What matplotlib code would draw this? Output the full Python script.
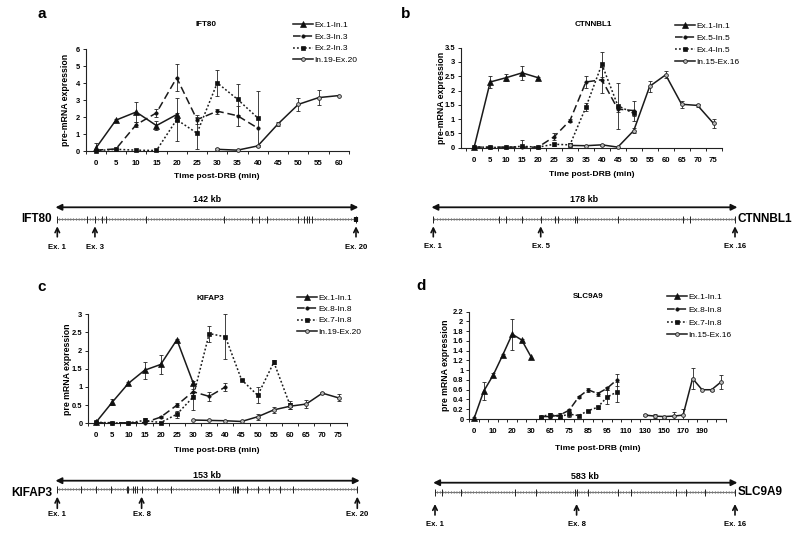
import numpy as np
import matplotlib
matplotlib.use('Agg')
import matplotlib.pyplot as plt
from matplotlib.patches import Rectangle

plt.rcParams['font.family'] = ['Liberation Sans', 'DejaVu Sans']
plt.rcParams['font.weight'] = 'bold'
plt.rcParams['hatch.linewidth'] = 0.5

W, H = 800, 536
def fx(px): return px / W
def fy(py): return 1 - py / H

# ---------------- data: panel a (IFT80) ----------------
ift80_times = [0, 5, 10, 15, 20, 25, 30, 35, 40, 45, 50, 55, 60]
ift80_ex1_in1 = [0.15, 1.82, 2.3, 1.5, 2.15, None, None, None, None, None, None, None, None]
ift80_ex1_in1_err = [0.35, 0.05, 0.6, 0.25, 0.1, None, None, None, None, None, None, None, None]
ift80_ex3_in3 = [0.05, 0.12, 1.55, 2.25, 4.32, 1.85, 2.35, 2.08, 1.35, None, None, None, None]
ift80_ex3_in3_err = [None, None, 0.15, 0.25, 0.8, 0.25, 0.15, 0.6, None, None, None, None, None]
ift80_ex2_in3 = [0.02, 0.1, 0.05, 0.03, 1.85, 1.05, 4.02, 3.05, 1.95, None, None, None, None]
ift80_ex2_in3_err = [None, None, None, None, 1.25, 0.95, 0.75, 0.9, 1.6, None, None, None, None]
ift80_in19_ex20 = [None, None, None, None, None, None, 0.1, 0.05, 0.3, 1.6, 2.75, 3.15, 3.27]
ift80_in19_ex20_err = [None, None, None, None, None, None, 0.05, None, 0.05, 0.12, 0.4, 0.45, None]

# ---------------- data: panel b (CTNNBL1) ----------------
ctnnbl1_times = [0, 5, 10, 15, 20, 25, 30, 35, 40, 45, 50, 55, 60, 65, 70, 75]
ctnnbl1_ex1_in1 = [0.03, 2.3, 2.45, 2.62, 2.45] + [None] * 11
ctnnbl1_ex1_in1_err = [None, 0.22, 0.12, 0.25, 0.03] + [None] * 11
ctnnbl1_ex5_in5 = [0.02, 0.02, 0.02, 0.02, 0.02, 0.38, 0.95, 2.3, 2.38, 1.35, 1.3] + [None] * 5
ctnnbl1_ex5_in5_err = [None, None, None, None, None, 0.12, 0.05, 0.2, 0.46, 0.1, 0.35] + [None] * 5
ctnnbl1_ex4_in5 = [0.03, 0.01, 0.01, 0.05, 0.02, 0.12, 0.1, 1.42, 2.92, 1.47, 1.2] + [None] * 5
ctnnbl1_ex4_in5_err = [None, None, None, 0.22, None, 0.05, 0.05, 0.15, 0.43, 0.8, 0.1] + [None] * 5
ctnnbl1_in15_ex16 = [None] * 6 + [0.08, 0.07, 0.1, 0.02, 0.6, 2.15, 2.55, 1.52, 1.48, 0.85]
ctnnbl1_in15_ex16_err = [None] * 6 + [None, None, 0.03, None, 0.1, 0.2, 0.12, 0.12, 0.05, 0.15]

# ---------------- data: panel c (KIFAP3) ----------------
kifap3_times = [0, 5, 10, 15, 20, 25, 30, 35, 40, 45, 50, 55, 60, 65, 70, 75]
kifap3_ex1_in1 = [0.03, 0.58, 1.1, 1.46, 1.62, 2.3, 1.12] + [None] * 9
kifap3_ex1_in1_err = [0.02, 0.08, 0.03, 0.24, 0.27, 0.03, 0.05] + [None] * 9
kifap3_ex8_in8 = [0.01, 0.02, 0.01, 0.02, 0.17, 0.5, 0.87, 0.74, 1.0] + [None] * 7
kifap3_ex8_in8_err = [None, None, None, None, 0.02, 0.05, 0.08, 0.13, 0.1] + [None] * 7
kifap3_ex7_in8 = [0.03, 0.01, 0.01, 0.08, 0.02, 0.25, 0.72, 2.47, 2.38, 1.2, 0.77, 1.68, 0.5] + [None] * 3
kifap3_ex7_in8_err = [0.02, None, None, 0.06, 0.02, 0.1, 0.35, 0.22, 0.62, 0.02, 0.22, 0.05, 0.1] + [None] * 3
kifap3_in19_ex20 = [None] * 6 + [0.09, 0.08, 0.07, 0.05, 0.18, 0.37, 0.47, 0.53, 0.83, 0.7]
kifap3_in19_ex20_err = [None] * 6 + [None, None, None, None, 0.08, 0.08, 0.08, 0.1, 0.03, 0.1]

# ---------------- data: panel d (SLC9A9) ----------------
slc9a9_times = [0, 5, 10, 15, 20, 25, 30, 60, 65, 70, 75, 80, 85, 90, 95, 100,
                110, 120, 130, 140, 150, 160, 170, 180, 190, 200, 210]
slc9a9_tick_labels = ['0', '10', '20', '30', '65', '75', '85', '95', '110', '130', '150', '170', '190']
slc9a9_ex1_in1 = [0.02, 0.57, 0.9, 1.31, 1.74, 1.62, 1.27] + [None] * 20
slc9a9_ex1_in1_err = [0.02, 0.19, 0.04, 0.03, 0.32, 0.02, None] + [None] * 20
slc9a9_ex8_in8 = [None] * 7 + [0.05, 0.05, 0.08, 0.18, 0.45, 0.6, 0.52, 0.63, 0.8] + [None] * 11
slc9a9_ex8_in8_err = [None] * 7 + [0.02, 0.02, 0.05, 0.02, 0.02, 0.04, 0.04, 0.03, 0.12] + [None] * 11
slc9a9_ex7_in8 = [None] * 7 + [0.05, 0.09, 0.05, 0.1, 0.07, 0.17, 0.24, 0.45, 0.55] + [None] * 11
slc9a9_ex7_in8_err = [None] * 7 + [0.02, 0.03, 0.07, 0.05, None, 0.02, 0.03, 0.15, 0.21] + [None] * 11
slc9a9_in15_ex16 = [None] * 18 + [0.08, 0.06, 0.05, 0.06, 0.08, 0.83, 0.6, 0.6, 0.76]
slc9a9_in15_ex16_err = [None] * 18 + [0.02, 0.04, 0.02, 0.09, 0.12, 0.22, None, 0.02, 0.15]

# ---------------- data: gene diagrams (exon positions, fraction of gene length) ----------------
ift80_exons = [0.0, 0.100, 0.126, 0.148, 0.163, 0.296, 0.559, 0.653, 0.675, 0.701,
               0.805, 0.826, 0.835, 0.844, 0.854, 1.0]
ctnnbl1_exons = [0.0, 0.218, 0.241, 0.293, 0.356, 0.403, 0.414, 0.470, 0.475, 0.613,
                 0.829, 0.851, 1.0]
kifap3_exons = [0.0, 0.078, 0.128, 0.178, 0.231, 0.237, 0.251, 0.259, 0.264, 0.281,
                0.331, 0.378, 0.539, 0.587, 0.592, 0.598, 0.603, 0.631, 0.668, 0.707,
                0.742, 0.787, 1.0]
slc9a9_exons = [0.0, 0.022, 0.087, 0.267, 0.337, 0.467, 0.472, 0.511, 0.609, 0.652,
                0.803, 0.837, 0.900, 1.0]

# ---------------- styles ----------------
STY = {
    'tri': dict(ls='-', marker='^', ms=3.8, mfc='#111111', mec='#111111', mew=0.5),
    'dash': dict(ls=(0, (5, 2.5)), marker='o', ms=2.4, mfc='#111111', mec='#111111', mew=0.5),
    'dot': dict(ls=(0, (1.2, 1.4)), marker='s', ms=3.4, mfc='#111111', mec='#111111', mew=0.5),
    'circ': dict(ls='-', marker='o', ms=2.7, mfc='#bbbbbb', mec='#222222', mew=0.6),
}

fig = plt.figure(figsize=(8, 5.36), dpi=100)


def arr(v):
    return np.array([np.nan if e is None else e for e in v], dtype=float)


def panel(rect_px, xlim, ylim, ystep, cats, series, title, title_xy, ylabel,
          ylabel_x, xlabel_xy, legend_xy, legend_sp, tick_idx=None, tick_text=None):
    l, r, t, b = rect_px
    ax = fig.add_axes([fx(l), fy(b), (r - l) / W, (b - t) / H])
    x = np.arange(len(cats))
    handles = []
    for lab, vals, errs, key in series:
        y = arr(vals)
        e = arr(errs)
        ax.errorbar(x, y, yerr=e, fmt='none', ecolor='#222222', elinewidth=0.6,
                    capsize=1.6, capthick=0.6, zorder=2)
        ln, = ax.plot(x, y, color='#1a1a1a', lw=1.1, label=lab, zorder=3,
                      clip_on=False, **STY[key])
        handles.append(ln)
    ax.set_xlim(*xlim)
    ax.set_ylim(*ylim)
    yt = np.round(np.arange(ylim[0], ylim[1] + 1e-9, ystep), 2)
    ax.set_yticks(yt)
    ax.set_yticklabels(['%g' % v for v in yt])
    if tick_idx is None:
        tick_idx = list(x)
        tick_text = [str(c) for c in cats]
    ax.set_xticks(tick_idx)
    ax.set_xticklabels(tick_text)
    ax.set_xticks(np.arange(-0.5, len(cats) - 0.4, 1), minor=True)
    ax.tick_params(axis='x', which='major', length=0, pad=6.5, labelsize=5.6)
    ax.tick_params(axis='x', which='minor', length=2.5, width=0.6, direction='out')
    ax.tick_params(axis='y', length=2.5, width=0.6, pad=1.5, labelsize=5.4)
    for s in ('top', 'right'):
        ax.spines[s].set_visible(False)
    for s in ('left', 'bottom'):
        ax.spines[s].set_linewidth(0.8)
        ax.spines[s].set_color('#222222')
    ax.set_ylabel(ylabel, fontsize=6.3, fontweight='bold')
    ax.yaxis.set_label_coords(fx(ylabel_x), fy((t + b) / 2), transform=fig.transFigure)
    ax.yaxis.label.set_verticalalignment('center')
    ax.set_xlabel('Time post-DRB (min)', fontsize=6.1, fontweight='bold')
    ax.xaxis.set_label_coords(fx(xlabel_xy[0]), fy(xlabel_xy[1]), transform=fig.transFigure)
    ax.xaxis.label.set_verticalalignment('center')
    fig.text(fx(title_xy[0]), fy(title_xy[1]), title, ha='center', va='center',
             fontsize=5.8, fontweight='bold')
    leg = ax.legend(handles=handles, loc='upper left',
                    bbox_to_anchor=(fx(legend_xy[0]), fy(legend_xy[1])),
                    bbox_transform=fig.transFigure, frameon=False, fontsize=6,
                    handlelength=2.4, handletextpad=0.2, labelspacing=legend_sp,
                    borderpad=0, borderaxespad=0, numpoints=1)
    for tx in leg.get_texts():
        tx.set_fontweight('normal')
    return ax


panel((85.5, 349, 49.3, 151), (-0.3, 12.3), (0, 6), 1, ift80_times,
      [('Ex.1-In.1', ift80_ex1_in1, ift80_ex1_in1_err, 'tri'),
       ('Ex.3-In.3', ift80_ex3_in3, ift80_ex3_in3_err, 'dash'),
       ('Ex.2-In.3', ift80_ex2_in3, ift80_ex2_in3_err, 'dot'),
       ('In.19-Ex.20', ift80_in19_ex20, ift80_in19_ex20_err, 'circ')],
      'IFT80', (206, 25), 'pre-mRNA expression', 66, (217, 177), (293, 21), 0.48)

panel((460.7, 721.5, 47.7, 147.7), (-0.85, 15.4), (0, 3.5), 0.5, ctnnbl1_times,
      [('Ex.1-In.1', ctnnbl1_ex1_in1, ctnnbl1_ex1_in1_err, 'tri'),
       ('Ex.5-In.5', ctnnbl1_ex5_in5, ctnnbl1_ex5_in5_err, 'dash'),
       ('Ex.4-In.5', ctnnbl1_ex4_in5, ctnnbl1_ex4_in5_err, 'dot'),
       ('In.15-Ex.16', ctnnbl1_in15_ex16, ctnnbl1_in15_ex16_err, 'circ')],
      'CTNNBL1', (593, 25), 'pre-mRNA expression', 441, (592, 175), (675, 22), 0.5)

panel((88, 346.6, 314.3, 423.3), (-0.37, 15.4), (0, 3), 0.5, kifap3_times,
      [('Ex.1-In.1', kifap3_ex1_in1, kifap3_ex1_in1_err, 'tri'),
       ('Ex.8-In.8', kifap3_ex8_in8, kifap3_ex8_in8_err, 'dash'),
       ('Ex.7-In.8', kifap3_ex7_in8, kifap3_ex7_in8_err, 'dot'),
       ('In.19-Ex.20', kifap3_in19_ex20, kifap3_in19_ex20_err, 'circ')],
      'KIFAP3', (210, 298), 'pre mRNA expression', 68, (217, 450), (297, 294), 0.42)

d_idx = [slc9a9_times.index(int(s)) for s in slc9a9_tick_labels]
panel((469, 725.8, 311.7, 419), (-0.55, 26.5), (0, 2.2), 0.2, slc9a9_times,
      [('Ex.1-In.1', slc9a9_ex1_in1, slc9a9_ex1_in1_err, 'tri'),
       ('Ex.8-In.8', slc9a9_ex8_in8, slc9a9_ex8_in8_err, 'dash'),
       ('Ex.7-In.8', slc9a9_ex7_in8, slc9a9_ex7_in8_err, 'dot'),
       ('In.15-Ex.16', slc9a9_in15_ex16, slc9a9_in15_ex16_err, 'circ')],
      'SLC9A9', (588, 297), 'pre mRNA expression', 445, (598, 448), (667, 293.5), 0.58,
      tick_idx=d_idx, tick_text=slc9a9_tick_labels)

# panel letters
for letter, (px, py) in zip('abcd', [(42, 14), (406, 14), (42, 287), (421, 286)]):
    fig.text(fx(px), fy(py), letter, ha='center', va='center', fontsize=11, fontweight='bold')


# ---------------- gene diagrams ----------------
def gene(name, kb, exons, marked, x0, x1, y0, geo, name_side, last_thick=False):
    # geo: offsets (px, downward positive) relative to gene line
    top, bot = -26, 40
    ax = fig.add_axes([fx(x0), fy(y0 + bot), (x1 - x0) / W, (bot - top) / H])
    ax.set_xlim(0, 1)
    ax.set_ylim(bot, top)
    ax.axis('off')
    ax.add_patch(Rectangle((0, -1.3), 1, 2.6, fill=False, hatch='||||||',
                           edgecolor='#888888', lw=0, clip_on=False))
    ax.plot([0, 1], [0, 0], color='#777777', lw=0.8, clip_on=False)
    ax.vlines(exons, -3.6, 3.6, color='#222222', lw=0.7, clip_on=False)
    if last_thick:
        ax.vlines([exons[-1]], -2.5, 2.5, color='#111111', lw=3, clip_on=False)
    ax.annotate('', xy=(-0.006, geo['arrow']), xytext=(1.008, geo['arrow']),
                annotation_clip=False,
                arrowprops=dict(arrowstyle='<|-|>', lw=1.3, color='#111111',
                                mutation_scale=9, shrinkA=0, shrinkB=0))
    ax.text(0.5, geo['kb'], '%d kb' % kb, ha='center', va='center', fontsize=6.5,
            fontweight='bold')
    for idx, lab in marked:
        xp = exons[idx]
        ax.annotate('', xy=(xp, geo['tip']), xytext=(xp, geo['base']),
                    annotation_clip=False,
                    arrowprops=dict(arrowstyle='->', lw=1.2, color='#111111',
                                    mutation_scale=8, shrinkA=0, shrinkB=0))
        ax.text(xp, geo['lab'], lab, ha='center', va='center', fontsize=5.6,
                fontweight='bold')
    if name_side == 'left':
        ax.text(-0.018, geo['name'], name, ha='right', va='center', fontsize=8.5,
                fontweight='bold')
    else:
        ax.text(1.008, geo['name'], name, ha='left', va='center', fontsize=8.5,
                fontweight='bold')


gene('IFT80', 142, ift80_exons, [(0, 'Ex. 1'), (2, 'Ex. 3'), (15, 'Ex. 20')],
     57.3, 356, 219.3, dict(arrow=-12, kb=-19.5, tip=7, base=17.5, lab=28, name=0),
     'left', last_thick=True)
gene('CTNNBL1', 178, ctnnbl1_exons, [(0, 'Ex. 1'), (4, 'Ex. 5'), (12, 'Ex .16')],
     433.3, 735, 219.3, dict(arrow=-12, kb=-19.5, tip=7, base=17.5, lab=27.5, name=0),
     'right')
gene('KIFAP3', 153, kifap3_exons, [(0, 'Ex. 1'), (9, 'Ex. 8'), (22, 'Ex. 20')],
     57.3, 357.3, 489.3, dict(arrow=-8.6, kb=-13.5, tip=7.4, base=19, lab=25, name=3.4),
     'left')
gene('SLC9A9', 583, slc9a9_exons, [(0, 'Ex. 1'), (6, 'Ex. 8'), (13, 'Ex. 16')],
     435, 735, 492.3, dict(arrow=-9.6, kb=-15.6, tip=11.7, base=22.7, lab=32.7, name=0),
     'right')

fig.savefig('out.png', dpi=100)
